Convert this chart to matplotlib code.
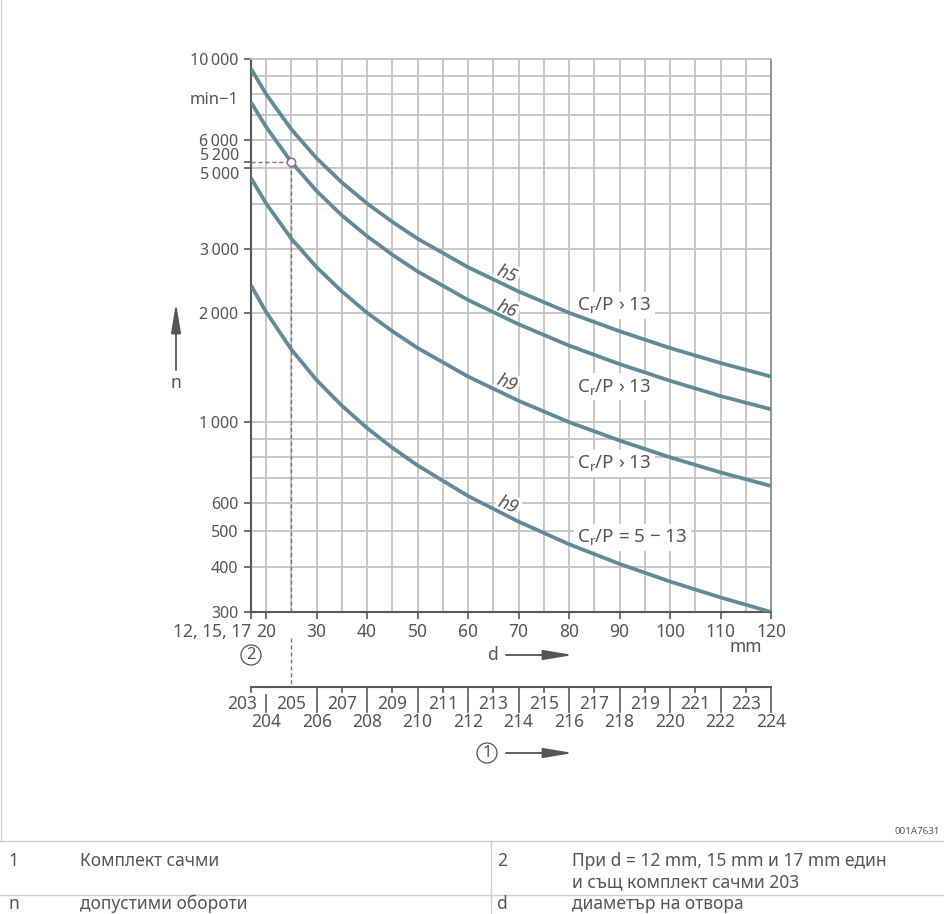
import matplotlib
matplotlib.use('Agg')
import matplotlib.pyplot as plt
import matplotlib.transforms as mtransforms
from matplotlib.lines import Line2D
from matplotlib.ticker import NullLocator

plt.rcParams['font.family'] = ['Noto Sans', 'DejaVu Sans']
plt.rcParams['mathtext.fontset'] = 'custom'
plt.rcParams['mathtext.rm'] = 'Noto Sans'
plt.rcParams['mathtext.it'] = 'Noto Sans:italic'

# bore diameter d in mm
d = [17, 20, 25, 30, 35, 40, 45, 50, 60, 70, 80, 90, 100, 110, 120]
# permissible speed n in min-1 for each curve
n_h5 = [9400, 8000, 6400, 5330, 4570, 4000, 3560, 3200, 2670, 2290, 2000, 1780, 1600, 1455, 1335]
n_h6 = [7600, 6500, 5200, 4330, 3710, 3250, 2890, 2600, 2170, 1860, 1625, 1445, 1300, 1180, 1085]
n_h9 = [4700, 4000, 3200, 2670, 2290, 2000, 1780, 1600, 1335, 1145, 1000, 890, 800, 727, 667]
n_h9_low = [2380, 2010, 1585, 1305, 1110, 963, 850, 760, 626, 532, 461, 407, 364, 329, 300]

y_ticks = [300, 400, 500, 600, 1000, 2000, 3000, 5000, 5200, 6000, 10000]
y_labels = ['300', '400', '500', '600', '1\u2009000', '2\u2009000', '3\u2009000',
            '', '', '6\u2009000', '10\u2009000']
x_ticks = [17, 20, 30, 40, 50, 60, 70, 80, 90, 100, 110, 120]
x_labels = ['12, 15, 17', '20', '30', '40', '50', '60', '70', '80', '90', '100', '110', '120']

# bearing-set numbers below the d scale
set_top = ['203', '205', '207', '209', '211', '213', '215', '217', '219', '221', '223']
set_top_d = [15.3, 25, 35, 45, 55, 65, 75, 85, 95, 105, 115]
set_bot = ['204', '206', '208', '210', '212', '214', '216', '218', '220', '222', '224']
set_bot_d = [20, 30, 40, 50, 60, 70, 80, 90, 100, 110, 120]

marked_d = 25
marked_n = 5200

curve_c = '#628b97'
grid_c = '#c4c4c8'
axis_c = '#5a5a5a'
text_c = '#555555'
purple = '#8b6b8f'

W, H = 945, 914


def fx(px):
    return px / W


def fy(py):
    return 1 - py / H


fig = plt.figure(figsize=(9.45, 9.14), dpi=100)
ax = fig.add_axes([fx(251), fy(612), fx(771) - fx(251), fy(59) - fy(612)])
ax.set_yscale('log')
ax.set_xlim(17, 120)
ax.set_ylim(300, 10000)

# grid: every 5 mm, log decades with minor lines
for x in range(20, 120, 5):
    ax.axvline(x, color=grid_c, lw=1.3, zorder=0)
for y in list(range(300, 1000, 100)) + list(range(1000, 10001, 1000)):
    ax.axhline(y, color=grid_c, lw=1.3, zorder=0)

for s in ['left', 'bottom']:
    ax.spines[s].set_color(axis_c)
    ax.spines[s].set_linewidth(1.5)
ax.spines['top'].set_color(grid_c)
ax.spines['top'].set_linewidth(1.3)
ax.spines['right'].set_color('#8c8c8c')
ax.spines['right'].set_linewidth(1.3)

ax.yaxis.set_minor_locator(NullLocator())
ax.set_yticks(y_ticks)
ax.set_yticklabels(y_labels)
ax.set_xticks(x_ticks)
ax.set_xticklabels(x_labels)
ax.tick_params(direction='out', length=5, width=1.2, color=axis_c,
               labelcolor=text_c, labelsize=12, pad=4)
ax.tick_params(axis='y', labelsize=11.5)
ax.tick_params(axis='x', pad=3, labelsize=12.5)
first = ax.get_xticklabels()[0]
first.set_ha('right')

bt = mtransforms.blended_transform_factory(ax.transAxes, ax.transData)
# 5 200 and 5 000 sit close together, so their labels are nudged apart
ax.text(-0.023, 5390, '5\u2009200', transform=bt, ha='right', va='center',
        fontsize=11.5, color=text_c)
ax.text(-0.023, 4780, '5\u2009000', transform=bt, ha='right', va='center',
        fontsize=11.5, color=text_c)
ax.text(-0.023, 7700, 'min\u22121', transform=bt, ha='right', va='center',
        fontsize=12, color=text_c)

# curves
for n in [n_h5, n_h6, n_h9, n_h9_low]:
    ax.plot(d, n, color=curve_c, lw=2.7, zorder=4, solid_capstyle='butt')

# curve labels
box = dict(fc='white', ec='none', pad=1.5)
for lab, xx, yy in [('h5', 67.7, 2560), ('h6', 67.7, 2050), ('h9', 67.7, 1280), ('h9', 67.9, 590)]:
    ax.text(xx, yy, lab, style='italic', rotation=-22, fontsize=13, color=text_c,
            ha='center', va='center', bbox=box, zorder=3)
for lab, yy in [('C$_{\\mathrm{r}}$/P \u203a 13', 2100), ('C$_{\\mathrm{r}}$/P \u203a 13', 1250),
                ('C$_{\\mathrm{r}}$/P \u203a 13', 771), ('C$_{\\mathrm{r}}$/P = 5 \u2212 13', 482)]:
    ax.text(81.6, yy, lab, fontsize=13.5, color=text_c, ha='left', va='center',
            bbox=dict(fc='white', ec='none', pad=2.5), zorder=3)

# example reading at d = 25
ax.plot([marked_d, marked_d], [300, marked_n], color=purple, lw=1, dashes=(3, 2), zorder=5)
ax.plot([17, marked_d], [marked_n, marked_n], color=purple, lw=1, dashes=(3, 2), zorder=5)
ax.plot(marked_d, marked_n, 'o', mfc='white', mec=purple, ms=6, mew=1.1, zorder=6)

# second scale: bearing sets
bf = mtransforms.blended_transform_factory(ax.transData, fig.transFigure)
ax.plot([marked_d, marked_d], [fy(638), fy(687)], transform=bf, clip_on=False,
        color=purple, lw=1, dashes=(3, 2))
ax.plot([17, 120], [fy(687), fy(687)], transform=bf, clip_on=False, color=axis_c, lw=1.5)
for x in set_bot_d:
    y0 = fy(695) if x == 20 else fy(687)
    ax.plot([x, x], [y0, fy(712)], transform=bf, clip_on=False, color=axis_c, lw=1.2)
for x in [17] + list(range(35, 116, 10)):
    ax.plot([x, x], [fy(687), fy(692)], transform=bf, clip_on=False, color=axis_c, lw=1.2)
for lab, x in zip(set_top, set_top_d):
    ax.text(x, fy(704), lab, transform=bf, ha='center', va='center', fontsize=12.5, color=text_c)
for lab, x in zip(set_bot, set_bot_d):
    ax.text(x, fy(722), lab, transform=bf, ha='center', va='center', fontsize=12.5, color=text_c)

# axis captions and arrows
arrow = dict(arrowstyle='-|>,head_length=1.8,head_width=0.3', color=text_c, lw=1.3,
             shrinkA=0, shrinkB=0)
fig.text(fx(176), fy(383), 'n', ha='center', va='center', fontsize=12.5, color=text_c)
ax.annotate('', xy=(176, H - 303), xytext=(176, H - 370), xycoords='figure pixels',
            textcoords='figure pixels', arrowprops=arrow)
fig.text(fx(493), fy(655), 'd', ha='center', va='center', fontsize=12.5, color=text_c)
ax.annotate('', xy=(573, H - 655), xytext=(506, H - 655), xycoords='figure pixels',
            textcoords='figure pixels', arrowprops=arrow)
fig.text(fx(746), fy(647), 'mm', ha='center', va='center', fontsize=12.5, color=text_c)
circ = dict(boxstyle='circle,pad=0.12', fc='white', ec=text_c, lw=0.9)
fig.text(fx(251), fy(655), '2', ha='center', va='center', fontsize=12, color=text_c, bbox=circ)
fig.text(fx(487), fy(753), '1', ha='center', va='center', fontsize=12, color=text_c, bbox=circ)
ax.annotate('', xy=(573, H - 753), xytext=(506, H - 753), xycoords='figure pixels',
            textcoords='figure pixels', arrowprops=arrow)

# legend table
line_c = '#d0d0d0'
fig.add_artist(Line2D([fx(1), fx(1)], [fy(0), fy(841)], color=line_c, lw=1))
fig.add_artist(Line2D([0, 1], [fy(841), fy(841)], color=line_c, lw=1))
fig.add_artist(Line2D([0, 1], [fy(895), fy(895)], color=line_c, lw=1))
fig.add_artist(Line2D([fx(491), fx(491)], [fy(841), 0], color=line_c, lw=1))

fig.text(fx(940), fy(832), '001A7631', ha='right', va='center', fontsize=7, color=text_c)
rows = [(8, 861, '1'), (80, 861, 'Комплект сачми'),
        (497, 861, '2'), (572, 861, 'При d = 12 mm, 15 mm и 17 mm един'),
        (572, 882, 'и същ комплект сачми 203'),
        (8, 904, 'n'), (80, 904, 'допустими обороти'),
        (497, 904, 'd'), (572, 904, 'диаметър на отвора')]
for x, y, s in rows:
    fig.text(fx(x), fy(y), s, ha='left', va='center', fontsize=12.5, color=text_c)

fig.savefig('out.png', dpi=100)
